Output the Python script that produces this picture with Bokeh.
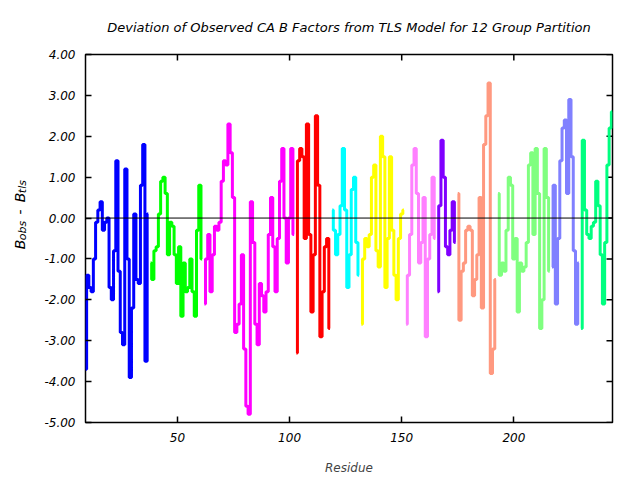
from bokeh.plotting import figure
from bokeh.layouts import row, column
from bokeh.models import Range1d, Span, FixedTicker, NumeralTickFormatter
from bokeh.core.properties import value
from bokeh.embed import file_html
from bokeh.resources import INLINE

# ---------------- data ----------------
title_text = "Deviation of Observed CA B Factors from TLS Model for 12 Group Partition"
x_label = "Residue"
x_ticks = [50, 100, 150, 200]
y_ticks = [-5, -4, -3, -2, -1, 0, 1, 2, 3, 4]
x_start, x_end = 9, 244
y_start, y_end = -5, 4

group_first_residue = [9, 38, 62, 103, 119, 132, 152, 166, 175, 193, 217, 230]
group_colors = ["#0000ff", "#00ff00", "#ff00ff", "#ff0000", "#00ffff", "#ffff00",
                "#ff80ff", "#8000ff", "#ff9980", "#80ff80", "#8080ff", "#00ff80"]

g01 = [-3.7, -1.4, -1.7, -1.8, -1.0, -0.1, 0.2, 0.4, -0.3, -0.1, 0.0, -1.7, -2.0, -0.8,
       1.4, -1.3, -2.8, -3.1, 1.2, -1.0, -3.9, -2.2, 0.1, -1.5, -1.6, 0.8, 1.8, -3.5, 0.1]
g02 = [-1.1, -1.5, -0.8, -0.7, 0.1, 0.9, 1.0, 0.6, -0.9, -0.1, -0.2, -0.9, -1.6, -0.7,
       -2.4, -1.1, -1.8, -1.7, -1.0, -1.8, -2.4, -0.3, 0.8, -1.0]
g03 = [-2.1, -1.0, -0.4, -1.8, -0.9, -0.2, -0.3, -0.1, 0.9, 1.4, 1.3, 2.3, 1.6, 0.5,
       -2.8, -2.6, -2.1, -0.9, -3.2, -4.6, -4.8, 0.4, -0.6, -2.6, -3.1, -1.6, -1.9, -2.3,
       -1.8, -0.4, 0.5, -0.7, -1.8, -0.5, 0.9, 1.7, 0.0, -1.1, 0.0, 1.7, -0.4]
g04 = [-3.3, 1.4, 1.7, 1.5, -0.5, 2.3, -0.4, -2.3, -0.9, 2.5, 0.8, -2.9, -1.8, -0.7,
       -0.5, -2.7]
g05 = [0.2, -0.3, -0.9, -0.4, 0.3, 1.7, 0.2, -1.7, -0.9, 0.7, 1.0, -0.6, -1.4]
g06 = [-2.6, -1.0, -0.5, -0.7, -0.4, 1.0, 1.3, -0.8, -1.2, 2.0, 1.5, -1.7, -0.5, 1.5,
       -0.3, -1.4, -2.0, -0.5, 0.1, 0.2]
g07 = [-2.6, -1.4, -0.4, 1.3, 1.7, 0.6, -1.1, -0.6, 0.5, -2.9, -1.0, -0.4, 1.0, -0.5]
g08 = [-1.8, 0.3, 1.9, 1.0, -0.7, -0.9, -0.3, 0.4, -0.6]
g09 = [0.6, -2.5, -1.3, -1.1, -0.3, -0.2, -0.3, -1.9, -1.5, -0.9, 0.5, -2.2, 1.8, 2.5,
       3.3, -3.8, -3.2, -1.5]
g10 = [0.6, -1.4, -1.1, -1.3, -0.3, 1.0, 0.8, -1.0, -0.5, -2.3, -1.1, -1.3, -1.2, -0.6,
       1.3, 1.6, -0.4, 1.7, 0.6, -2.7, -2.0, 1.7, 0.5, -1.3]
g11 = [-1.2, 0.8, -2.1, -0.5, 1.4, 2.2, 2.4, 0.6, 2.9, 1.5, -0.8, -2.6, -1.1]
g12 = [-2.7, 1.9, 0.2, -0.4, -0.5, -0.2, -0.1, 0.9, 0.3, -0.9, -2.1, -0.6, 1.3, 2.2, 2.6]
groups = [g01, g02, g03, g04, g05, g06, g07, g08, g09, g10, g11, g12]

# y-axis label pieces: (text, is_subscript)
y_label_parts = [("B", False), ("obs", True), ("-", False), ("B", False), ("tls", True)]

# ---------------- style ----------------
FONT = "DejaVu Sans"
W, H = 640, 480
TS_H = 40                       # height of the strip holding the title
LBL_W = 30                      # width of the strip holding the y label
FRAME_L, FRAME_R, FRAME_T, FRAME_B = 85, 612, 54, 422
MAIN_H = H - TS_H
BL, BR, BT, BB = FRAME_L - LBL_W, W - FRAME_R, FRAME_T - TS_H, H - FRAME_B


def strip(w, h):
    f = figure(width=w, height=h, output_backend="svg", toolbar_location=None,
               x_range=Range1d(0, w), y_range=Range1d(0, h),
               min_border=0, min_border_left=0, min_border_right=0,
               min_border_top=0, min_border_bottom=0)
    f.axis.visible = False
    f.grid.visible = False
    f.outline_line_color = None
    f.background_fill_color = "white"
    f.border_fill_color = "white"
    return f


p = figure(width=W - LBL_W, height=MAIN_H, output_backend="svg", toolbar_location=None,
           x_range=Range1d(x_start, x_end), y_range=Range1d(y_start, y_end),
           min_border_left=BL, min_border_right=BR, min_border_top=BT, min_border_bottom=BB)

p.grid.visible = False
p.background_fill_color = "white"
p.border_fill_color = "white"
p.outline_line_color = "black"
p.outline_line_width = 1.5
p.outline_line_alpha = 1

for ax in (p.xaxis[0], p.yaxis[0]):
    ax.axis_line_color = None
    ax.major_tick_in = 6
    ax.major_tick_out = 0
    ax.minor_tick_line_color = None
    ax.major_tick_line_color = "black"
    ax.major_tick_line_width = 1.5
    ax.major_label_text_font = FONT
    ax.major_label_text_font_style = "italic"
    ax.major_label_text_font_size = "12px"
    ax.major_label_text_color = "black"

p.xaxis[0].ticker = FixedTicker(ticks=x_ticks)
p.yaxis[0].ticker = FixedTicker(ticks=y_ticks)
p.yaxis[0].formatter = NumeralTickFormatter(format="0.00")
p.xaxis[0].major_label_standoff = 10
p.yaxis[0].major_label_standoff = 10
p.xaxis[0].axis_label = x_label
p.xaxis[0].axis_label_text_font = FONT
p.xaxis[0].axis_label_text_font_style = "italic"
p.xaxis[0].axis_label_text_font_size = "12px"
p.xaxis[0].axis_label_standoff = 16

# mirrored ticks on top and right
frame_w = FRAME_R - FRAME_L
frame_h = FRAME_B - FRAME_T
tick_len = 6
dy = tick_len * (y_end - y_start) / frame_h
dx = tick_len * (x_end - x_start) / frame_w
p.segment(x0=x_ticks, y0=[y_end] * len(x_ticks), x1=x_ticks, y1=[y_end - dy] * len(x_ticks),
          line_color="black", line_width=1.5)
p.segment(x0=[x_end] * len(y_ticks), y0=y_ticks, x1=[x_end - dx] * len(y_ticks), y1=y_ticks,
          line_color="black", line_width=1.5)

# zero line
p.add_layout(Span(location=0, dimension="width", line_color="black", line_width=1))

# data lines
for start, vals, col in zip(group_first_residue, groups, group_colors):
    xs = list(range(start, start + len(vals)))
    p.step(xs, vals, mode="center", line_color=col, line_width=3)

# ---------------- title strip ----------------
ts = strip(W, TS_H)
ts.text(x=[(FRAME_L + FRAME_R) / 2.0], y=[TS_H - 27], text=[title_text],
        text_align="center", text_baseline="middle",
        text_font=value(FONT), text_font_style="italic", text_font_size="13px",
        text_color="black")

# ---------------- y label strip ----------------
lab = strip(LBL_W, MAIN_H)
MAIN_FS, SUB_FS = 14, 11
GAP = 9
em = {"B": 0.69, "o": 0.61, "b": 0.64, "s": 0.52, "-": 0.36, "t": 0.39, "l": 0.28}
widths = [1.12 * sum(em[c] for c in t) * (SUB_FS if sub else MAIN_FS) for t, sub in y_label_parts]
gaps = [0, 0, GAP, GAP, 0]  # space before each piece
center_from_top = 232 - TS_H
baseline_x = 19
total = sum(widths) + sum(gaps)
pos = (MAIN_H - center_from_top) - total / 2.0
for (t, sub), wdt, g in zip(y_label_parts, widths, gaps):
    pos += g
    lab.text(x=[baseline_x + (3 if sub else 0)], y=[pos], text=[t], angle=1.5707963,
             text_align="left", text_baseline="alphabetic",
             text_font=value(FONT), text_font_style="italic",
             text_font_size="%dpx" % (SUB_FS if sub else MAIN_FS), text_color="black")
    pos += wdt

layout = column(ts, row(lab, p, spacing=0), spacing=0)
open("out.html", "w").write(file_html(layout, INLINE))
